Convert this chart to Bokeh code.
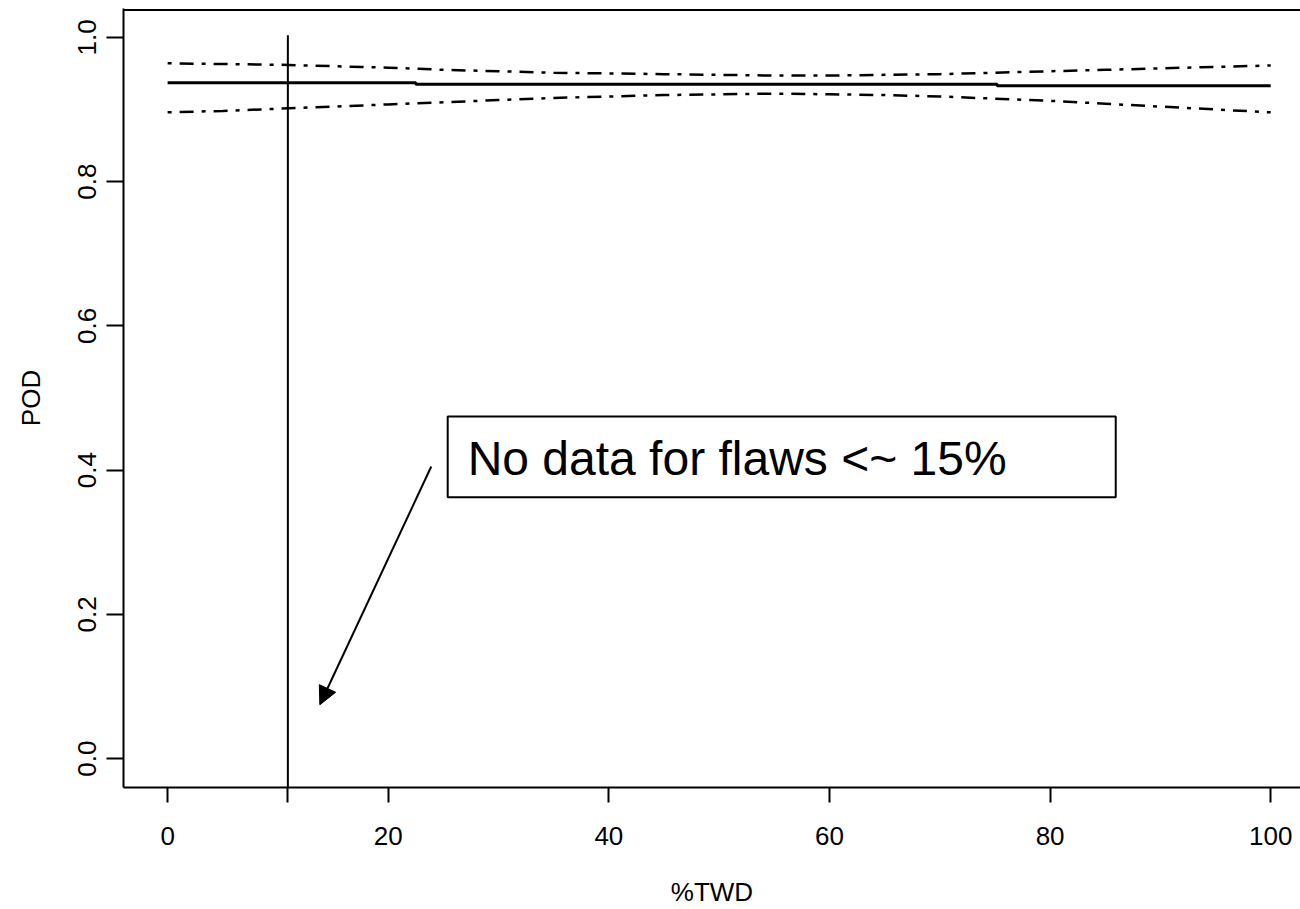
from bokeh.plotting import figure
from bokeh.models import Range1d, Arrow, NormalHead, Span, FixedTicker
from bokeh.core.properties import value
from bokeh.embed import file_html
from bokeh.resources import INLINE

# ---- data ----
x_fit = [0, 22.5, 22.5, 75.2, 75.2, 100]
pod_fit = [0.937, 0.937, 0.935, 0.935, 0.933, 0.933]

x_band = [0, 5, 10, 15, 20, 25, 30, 35, 40, 45, 50, 55, 60, 65, 70, 75, 80, 85, 90, 95, 100]
pod_upper = [0.964, 0.963, 0.962, 0.960, 0.958, 0.955, 0.953, 0.951, 0.950, 0.949, 0.948,
             0.947, 0.947, 0.948, 0.949, 0.951, 0.953, 0.955, 0.957, 0.959, 0.961]
pod_lower = [0.896, 0.898, 0.901, 0.904, 0.907, 0.910, 0.913, 0.916, 0.918, 0.920, 0.921,
             0.922, 0.921, 0.920, 0.918, 0.915, 0.912, 0.908, 0.904, 0.900, 0.896]

cutoff_x = 10.9
x_ticks = [0, 20, 40, 60, 80, 100]
y_ticks = [0.0, 0.2, 0.4, 0.6, 0.8, 1.0]
y_tick_labels = ["0.0", "0.2", "0.4", "0.6", "0.8", "1.0"]
note_text = "No data for flaws <~ 15%"

FONT = "Liberation Sans"

p = figure(width=1300, height=909,
           x_range=Range1d(-4, 102.7), y_range=Range1d(-0.04, 1.04),
           output_backend="svg", toolbar_location=None,
           min_border_left=123, min_border_right=0,
           min_border_top=8, min_border_bottom=120,
           background_fill_color="white", border_fill_color="white")
p.grid.visible = False
p.outline_line_color = None

for ax in (p.xaxis[0], p.yaxis[0]):
    ax.axis_line_width = 2
    ax.axis_line_color = "black"
    ax.major_tick_line_width = 2
    ax.major_tick_line_color = "black"
    ax.major_tick_in = 0
    ax.minor_tick_line_color = None
    ax.major_label_text_font = FONT
    ax.major_label_text_font_size = "26px"
    ax.major_label_text_color = "black"
    ax.axis_label_text_font = FONT
    ax.axis_label_text_font_size = "26px"
    ax.axis_label_text_font_style = "normal"
    ax.axis_label_text_color = "black"

# the cutoff line pokes below the axis: drawn as an extra (unlabelled) tick
p.xaxis.ticker = FixedTicker(ticks=x_ticks + [cutoff_x])
p.xaxis.major_label_overrides = {cutoff_x: ""}
p.xaxis.major_tick_out = 15
p.xaxis.major_label_standoff = 24
p.xaxis.axis_label = "%TWD"
p.xaxis.axis_label_standoff = 29

p.yaxis.ticker = FixedTicker(ticks=y_ticks)
p.yaxis.major_label_overrides = {t: l for t, l in zip(y_ticks, y_tick_labels)}
p.yaxis.major_label_orientation = "vertical"
p.yaxis.major_tick_out = 17
p.yaxis.major_label_standoff = 10
p.yaxis.axis_label = "POD"
p.yaxis.axis_label_standoff = 30

# top border of the box
p.add_layout(Span(location=1.038, dimension="width", line_color="black", line_width=2))

# confidence bounds and fit
p.line(x_band, pod_upper, line_color="black", line_width=2.5, line_dash="4 8 14 8")
p.line(x_band, pod_lower, line_color="black", line_width=2.5, line_dash="4 8 14 8")
p.line(x_fit, pod_fit, line_color="black", line_width=3)

# vertical cutoff line
p.add_layout(Arrow(end=None, x_start=cutoff_x, y_start=1.003, x_end=cutoff_x, y_end=-0.05,
                   line_color="black", line_width=2))

# annotation box
p.quad(left=[25.39], right=[85.95], bottom=[0.3624], top=[0.4744],
       fill_color="white", line_color="black", line_width=2)
p.text(x=[27.2], y=[0.4156], text=[note_text], text_font=value(FONT),
       text_font_size="48px", text_baseline="middle", text_align="left",
       text_color="black")

# arrow to the no-data region
p.add_layout(Arrow(end=NormalHead(size=18, fill_color="black", line_color="black"),
                   x_start=23.9, y_start=0.405, x_end=13.8, y_end=0.0747,
                   line_color="black", line_width=2))

open("out.html", "w").write(file_html(p, INLINE))
